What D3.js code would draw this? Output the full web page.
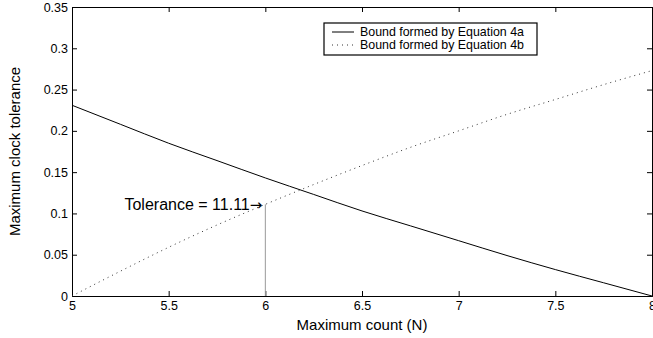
<!DOCTYPE html>
<html>
<head>
<meta charset="utf-8">
<script src="https://cdn.jsdelivr.net/npm/d3@7"></script>
<style>
  body { margin: 0; background: #fff; }
  text { font-family: "Liberation Sans", Arial, sans-serif; fill: #000; }
</style>
</head>
<body>
<div id="chart"></div>
<script>
// values
const countN = [5, 5.25, 5.5, 5.75, 6, 6.25, 6.5, 6.75, 7, 7.25, 7.5, 7.75, 8];
const boundA = [0.231, 0.208, 0.185, 0.164, 0.143, 0.123, 0.103, 0.085, 0.067, 0.049, 0.032, 0.016, 0];
const boundB = [0, 0.030, 0.059, 0.086, 0.111, 0.135, 0.158, 0.180, 0.200, 0.220, 0.238, 0.256, 0.273];
const xTicks = [5, 5.5, 6, 6.5, 7, 7.5, 8];
const yTicks = [0, 0.05, 0.1, 0.15, 0.2, 0.25, 0.3, 0.35];
const legendLabels = ['Bound formed by Equation 4a', 'Bound formed by Equation 4b'];
const markN = 6, markTol = 0.111;

const width = 653, height = 338;
const margin = { top: 7, right: 1, bottom: 42, left: 72 };

const svg = d3.select('#chart').append('svg')
  .attr('width', width)
  .attr('height', height);

const x = d3.scaleLinear().domain([5, 8]).range([margin.left, width - margin.right]);
const y = d3.scaleLinear().domain([0, 0.35]).range([height - margin.bottom, margin.top]);

const tick = 5;
const fmt = d => String(d);

// axes, ticks pointing inward like matlab
svg.append('g')
  .attr('transform', `translate(0,${y(0)})`)
  .call(d3.axisBottom(x).tickValues(xTicks).tickSize(-tick).tickFormat(fmt).tickPadding(5))
  .call(g => g.selectAll('text').style('font-size', '12.5px'));
svg.append('g')
  .attr('transform', `translate(0,${y(0.35)})`)
  .call(d3.axisTop(x).tickValues(xTicks).tickSize(-tick).tickFormat(''));
svg.append('g')
  .attr('transform', `translate(${x(5)},0)`)
  .call(d3.axisLeft(y).tickValues(yTicks).tickSize(-tick).tickFormat(fmt).tickPadding(4))
  .call(g => g.selectAll('text').style('font-size', '12.5px'));
svg.append('g')
  .attr('transform', `translate(${x(8)},0)`)
  .call(d3.axisRight(y).tickValues(yTicks).tickSize(-tick).tickFormat(''));

svg.selectAll('.domain').attr('stroke', '#000').attr('stroke-width', 1);
svg.selectAll('.tick line').attr('stroke', '#000');

const line = d3.line()
  .x(d => x(d[0]))
  .y(d => y(d[1]))
  .curve(d3.curveMonotoneX);

svg.append('path')
  .datum(countN.map((n, i) => [n, boundA[i]]))
  .attr('d', line)
  .attr('fill', 'none')
  .attr('stroke', '#000')
  .attr('stroke-width', 1);

svg.append('path')
  .datum(countN.map((n, i) => [n, boundB[i]]))
  .attr('d', line)
  .attr('fill', 'none')
  .attr('stroke', '#333')
  .attr('stroke-width', 1)
  .attr('stroke-dasharray', '1,4');

// marker line at N = 6
svg.append('line')
  .attr('x1', x(markN)).attr('x2', x(markN))
  .attr('y1', y(0)).attr('y2', y(markTol))
  .attr('stroke', '#999')
  .attr('stroke-width', 1);

const note = svg.append('text')
  .attr('x', x(markN) - 3)
  .attr('y', y(markTol))
  .attr('dy', '0.35em')
  .attr('text-anchor', 'end')
  .style('font-size', '16px');
note.append('tspan').text('Tolerance = 11.11');
note.append('tspan')
  .style('font-family', '"DejaVu Sans", sans-serif')
  .style('font-size', '15px')
  .text('\u2192');

// legend
const lg = svg.append('g').attr('transform', 'translate(324,23)');
lg.append('rect')
  .attr('width', 213).attr('height', 32)
  .attr('fill', '#fff')
  .attr('stroke', '#000')
  .attr('stroke-width', 1.2);
legendLabels.forEach((lab, i) => {
  const cy = 9 + i * 13;
  lg.append('line')
    .attr('x1', 8).attr('x2', 30)
    .attr('y1', cy).attr('y2', cy)
    .attr('stroke', i === 0 ? '#000' : '#333')
    .attr('stroke-dasharray', i === 0 ? null : '1,4');
  lg.append('text')
    .attr('x', 36).attr('y', cy)
    .attr('dy', '0.35em')
    .style('font-size', '12.4px')
    .text(lab);
});

// axis titles
svg.append('text')
  .attr('x', (x(5) + x(8)) / 2)
  .attr('y', 330)
  .attr('text-anchor', 'middle')
  .style('font-size', '15px')
  .text('Maximum count (N)');

svg.append('text')
  .attr('transform', `translate(20,${(y(0) + y(0.35)) / 2}) rotate(-90)`)
  .attr('text-anchor', 'middle')
  .style('font-size', '15px')
  .text('Maximum clock tolerance');
</script>
</body>
</html>
